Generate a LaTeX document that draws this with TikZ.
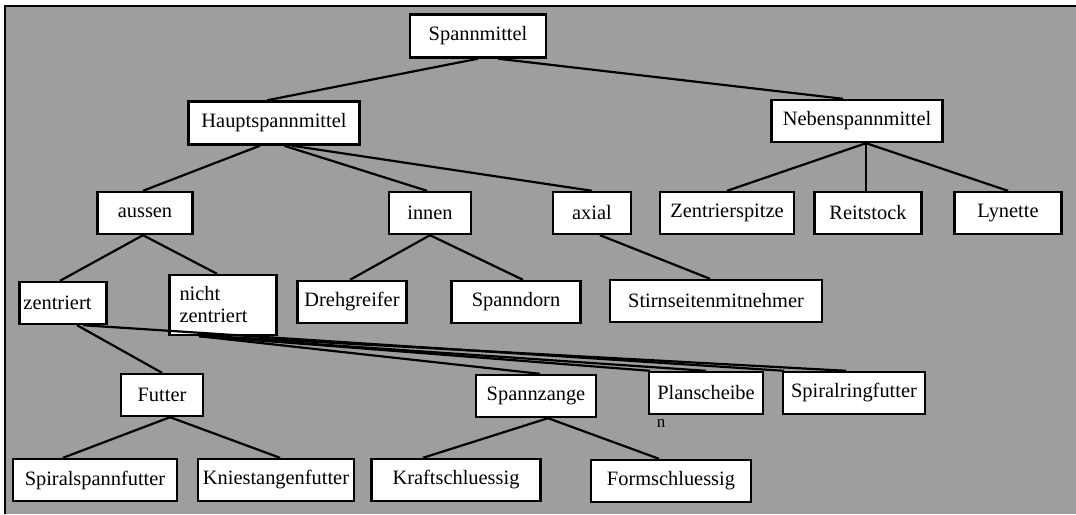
\documentclass[tikz,border=0pt]{standalone}
\usepackage{fontspec}
\setmainfont{Liberation Serif}
\definecolor{raster}{gray}{0.62}
\tikzset{
  box/.style={draw, fill=white, line width=1.2pt, inner sep=2pt,
    minimum height=21pt, font=\fontsize{10.2}{11}\selectfont},
  link/.style={line width=1.1pt},
}

\begin{document}
\begin{tikzpicture}[x=0.5pt, y=-0.5pt]
	\useasboundingbox (0,0) rectangle (1076,514);
	\fill[raster] (5,6) rectangle (1076,514);
	\draw[line width=1.2pt] (5,514) -- (5,6) -- (1076,6);
	
	% Ebene 1 und 2
	\node[box, minimum width=68pt, minimum height=21.5pt] (spann) at (478,36) {Spannmittel};
	\node[box, minimum width=85.5pt, minimum height=21.5pt] (haupt) at (274,123) {Hauptspannmittel};
	\node[box, minimum width=85.5pt] (neben) at (857,121) {Nebenspannmittel};
	
	% Ebene 3
	\node[box, minimum width=47.5pt] (aussen) at (145,213) {aussen};
	\node[box, minimum width=41pt] (innen) at (430,213) {innen};
	\node[box, minimum width=39pt] (axial) at (592,213) {axial};
	\node[box, minimum width=67pt] (zspitze) at (727,213) {Zentrierspitze};
	\node[box, minimum width=53.5pt] (reit) at (868,213) {Reitstock};
	\node[box, minimum width=53.5pt] (lyn) at (1008,213) {Lynette};
	
	% Ebene 4
	\node[box, minimum height=21pt, text width=39.5pt, inner xsep=2pt] (zent) at (63,303) {zentriert};
	\node[box, minimum height=30pt, inner xsep=5pt, text width=43.5pt, align=left] (nzent) at (223,305) {nicht\\zentriert};
	\node[box, minimum width=54.5pt] (dreh) at (352,302) {Drehgreifer};
	\node[box, minimum width=64.5pt] (dorn) at (516,302) {Spanndorn};
	\node[box, minimum width=106pt] (stirn) at (716,301) {Stirnseitenmitnehmer};
	
	% Ebene 5
	\node[box, minimum width=41pt] (futter) at (162,395) {Futter};
	\node[box, minimum width=60pt] (zange) at (536,396) {Spannzange};
	\node[box, minimum width=57pt] (plan) at (706,393) {Planscheibe};
	\node[font=\fontsize{8.5}{9}\selectfont, inner sep=0pt] (planrest) at (661,423) {n};
	\node[box, minimum width=71pt] (ring) at (854,393) {Spiralringfutter};
	
	% Ebene 6
	\node[box, minimum width=82pt] (sfutter) at (95,480) {Spiralspannfutter};
	\node[box, minimum width=78pt] (knie) at (276,480) {Kniestangenfutter};
	\node[box, minimum width=84.5pt] (kraft) at (456,480) {Kraftschluessig};
	\node[box, minimum width=80pt] (form) at (671,481) {Formschluessig};
	
	% Verbindungen
	\draw[link] (spann.south) -- ([xshift=-3.5pt]haupt.north);
	\draw[link] ([xshift=10pt]spann.south) -- ([xshift=-7pt]neben.north);
	\draw[link] ([xshift=-7pt]haupt.south) -- ([xshift=-1pt]aussen.north);
	\draw[link] ([xshift=5pt]haupt.south) -- ([xshift=-1.5pt]innen.north);
	\draw[link] ([xshift=9pt]haupt.south) -- (axial.north);
	\draw[link] ([xshift=4.5pt]neben.south) -- (zspitze.north);
	\draw[link] ([xshift=4.5pt]neben.south) -- ([xshift=-1pt]reit.north);
	\draw[link] ([xshift=4.5pt]neben.south) -- (lyn.north);
	\draw[link] ([xshift=-1pt]aussen.south) -- ([xshift=-1.5pt]zent.north);
	\draw[link] ([xshift=-1pt]aussen.south) -- ([xshift=-3pt]nzent.north);
	\draw[link] (innen.south) -- ([xshift=-1pt]dreh.north);
	\draw[link] (innen.south) -- ([xshift=3.5pt]dorn.north);
	\draw[link] ([xshift=4pt]axial.south) -- ([xshift=-3pt]stirn.north);
	\draw[link] ([xshift=7pt]zent.south) -- (futter.north);
	\draw[link] ([xshift=10pt]zent.south) -- ([xshift=-35pt]ring.north);
	\draw[link] ([xshift=-9pt]nzent.south) -- ([xshift=-28pt]plan.north);
	\draw[link] ([xshift=-6pt]nzent.south) -- ([xshift=-4pt]ring.north);
	\draw[link] ([xshift=-12pt]nzent.south) -- (plan.north);
	\draw[link] ([xshift=-12pt]nzent.south) -- ([xshift=2pt]zange.north);
	\draw[link] ([xshift=4pt]futter.south) -- ([xshift=-16pt]sfutter.north);
	\draw[link] ([xshift=4pt]futter.south) -- ([xshift=2pt]knie.north);
	\draw[link] ([xshift=6pt]zange.south) -- ([xshift=-16.5pt]kraft.north);
	\draw[link] ([xshift=6pt]zange.south) -- ([xshift=-6pt]form.north);
\end{tikzpicture}
\end{document}
